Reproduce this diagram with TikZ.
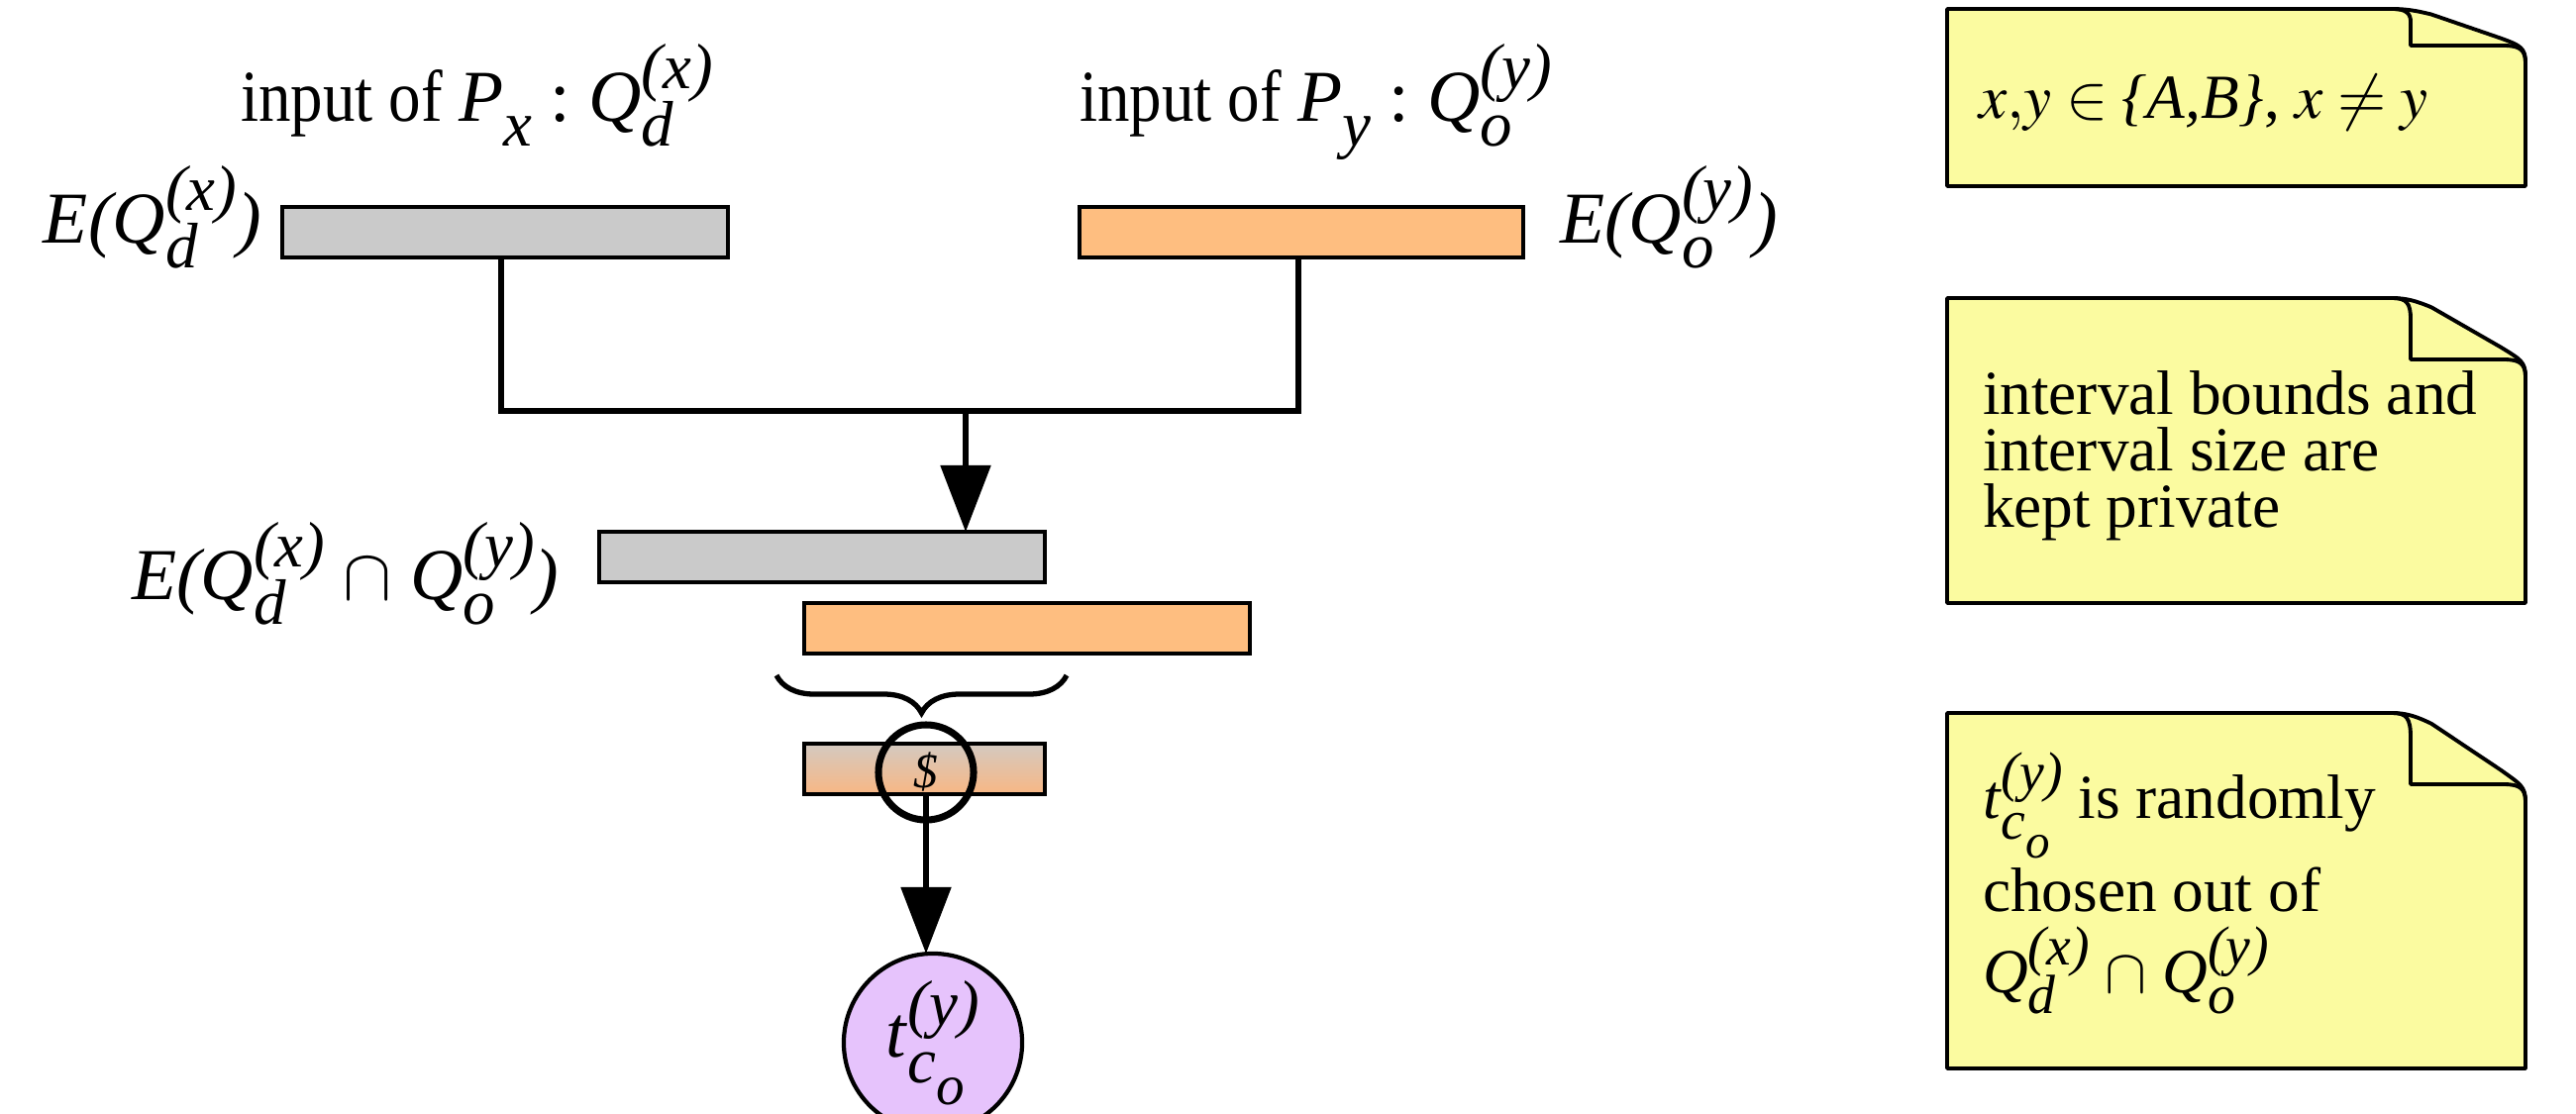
\documentclass[tikz,border=0pt]{standalone}
\usepackage{mathptmx}
\usepackage[no-math]{fontspec}
\setmainfont{Liberation Serif}
\usetikzlibrary{arrows.meta,decorations.pathreplacing}
\definecolor{grayfill}{HTML}{CACACA}
\definecolor{orangefill}{HTML}{FEBE80}
\definecolor{notefill}{HTML}{FBFBA0}
\definecolor{purpfill}{HTML}{E6C3FC}
\definecolor{gradtop}{HTML}{D4C9C0}
\definecolor{gradbot}{HTML}{F8B784}
\makeatletter
\newcommand\scrfont{\fontsize{\fpeval{0.88*\f@size}}{\fpeval{0.88*\f@size}}\selectfont\itshape}
\makeatother
% #1 subscript, #2 superscript
\newcommand\scr[2]{%
  \setbox0\hbox{\raisebox{-0.34em}{\scrfont #1}}%
  \setbox2\hbox{\raisebox{0.44em}{\scrfont #2}}%
  \ifdim\wd0>\wd2 \rlap{\box2}\box0 \else \rlap{\box0}\box2 \fi}
\newcommand\narrow[1]{\scalebox{0.88}[1]{#1}}
\newcommand\notebox[3]{%
  \draw[notestyle] (1966,#1) -- (2415,#1) .. controls (2430,#1) and (2440,{#1+0.05*#3}) .. (2455,{#1+0.15*#3}) -- (2525,{#1+0.8*#3}) .. controls (2545,{#1+#3}) and (2550,{#1+#3+2}) .. (2550,{#1+#3+18}) -- (2550,#2) -- (1966,#2) -- cycle;
  \draw[notestyle,fill=none] (2415,#1) .. controls (2430,#1) and (2434,{#1+5}) .. (2434,{#1+0.35*#3}) -- (2434,{#1+#3}) -- (2528,{#1+#3}) .. controls (2545,{#1+#3}) and (2550,{#1+#3+5}) .. (2550,{#1+#3+18});
}
\begin{document}
\begin{tikzpicture}[x=0.01cm,y=-0.01cm,
  every node/.style={font=\fontsize{21}{21}\selectfont, inner sep=0pt, outer sep=0pt},
  notetext/.style={font=\fontsize{18}{18}\selectfont, anchor=base west},
  bar/.style={draw, line width=1.2pt, anchor=north west, minimum height=0.51cm},
  conn/.style={line width=1.5pt},
  tipstyle/.style={-{Triangle[width=0.5cm,length=0.67cm]}},
  notestyle/.style={draw, fill=notefill, line width=1.1pt, line join=round},
  lbl/.style={anchor=base west}]
\useasboundingbox (0,0) rectangle (2601,1124);

% top labels
\node[lbl] (inx) at (243,122) {\narrow{input of }\textit{P}\scr{x}{}\ :\ \textit{Q}\scr{d}{(x)}};
\node[lbl] (iny) at (1090,122) {\narrow{input of }\textit{P}\scr{y}{}\ :\ \textit{Q}\scr{o}{(y)}};

% input bars
\node[bar, fill=grayfill, minimum width=4.5cm] (g1) at (285,209) {};
\node[bar, fill=orangefill, minimum width=4.48cm] (o1) at (1090,209) {};
\node[lbl] (lg1) at (44,245) {\textit{E(Q}\scr{d}{(x)}\textit{)}};
\node[lbl] (lo1) at (1575,245) {\textit{E(Q}\scr{o}{(y)}\textit{)}};

% merge connector
\coordinate (jl) at (506,415);
\coordinate (jr) at (1311,415);
\coordinate (jm) at (975,415);
\draw[conn, line join=miter] (g1.south -| jl) -- (jl) -- (jr) -- (o1.south -| jr);

% intersection bars
\node[bar, fill=grayfill, minimum width=4.5cm] (g2) at (605,537) {};
\node[bar, fill=orangefill, minimum width=4.5cm] (o2) at (812,609) {};
\node[lbl] (lint) at (133,605) {\textit{E(Q}\scr{d}{(x)}\ $\cap$\ \textit{Q}\scr{o}{(y)}\textit{)}};
\draw[conn, tipstyle] (jm) -- (g2.north -| jm);

% brace
\draw[line width=1.5pt, decorate, decoration={brace, amplitude=0.38cm}] (1077,682) -- (784,682);

% random choice bar
\node[bar, top color=gradtop, bottom color=gradbot, minimum width=2.43cm] (g3) at (812,751) {};
\node[circle, draw, line width=2pt, minimum size=0.96cm, font=\fontsize{14}{14}\selectfont] (dol) at (935,780) {\textit{\$}};

% result
\node[circle, draw, fill=purpfill, line width=1.2pt, minimum size=1.8cm] (t) at (942,1053) {\raisebox{0.1em}{\textit{t}\scr{c\scr{o}{}}{(y)}}};
\draw[conn, tipstyle] (g3.south -| dol) -- (t.north -| dol);

% notes
\notebox{9}{188}{37}
\node[notetext] (n1) at (1998,119) {$x{,}y \in \textit{\{A,B\}}$, $x \neq y$};

\notebox{301}{609}{62}
\node[notetext] (n2a) at (2002,418) {interval bounds and};
\node[notetext] (n2b) at (2002,475) {interval size are};
\node[notetext] (n2c) at (2002,532) {kept private};

\notebox{720}{1079}{72}
\node[notetext] (n3a) at (2002,826) {\textit{t}\scr{c\scr{o}{}}{(y)} is randomly};
\node[notetext] (n3b) at (2002,920) {chosen out of};
\node[notetext] (n3c) at (2002,1002) {\textit{Q}\scr{d}{(x)}\ $\cap$\ \textit{Q}\scr{o}{(y)}};
\end{tikzpicture}
\end{document}
